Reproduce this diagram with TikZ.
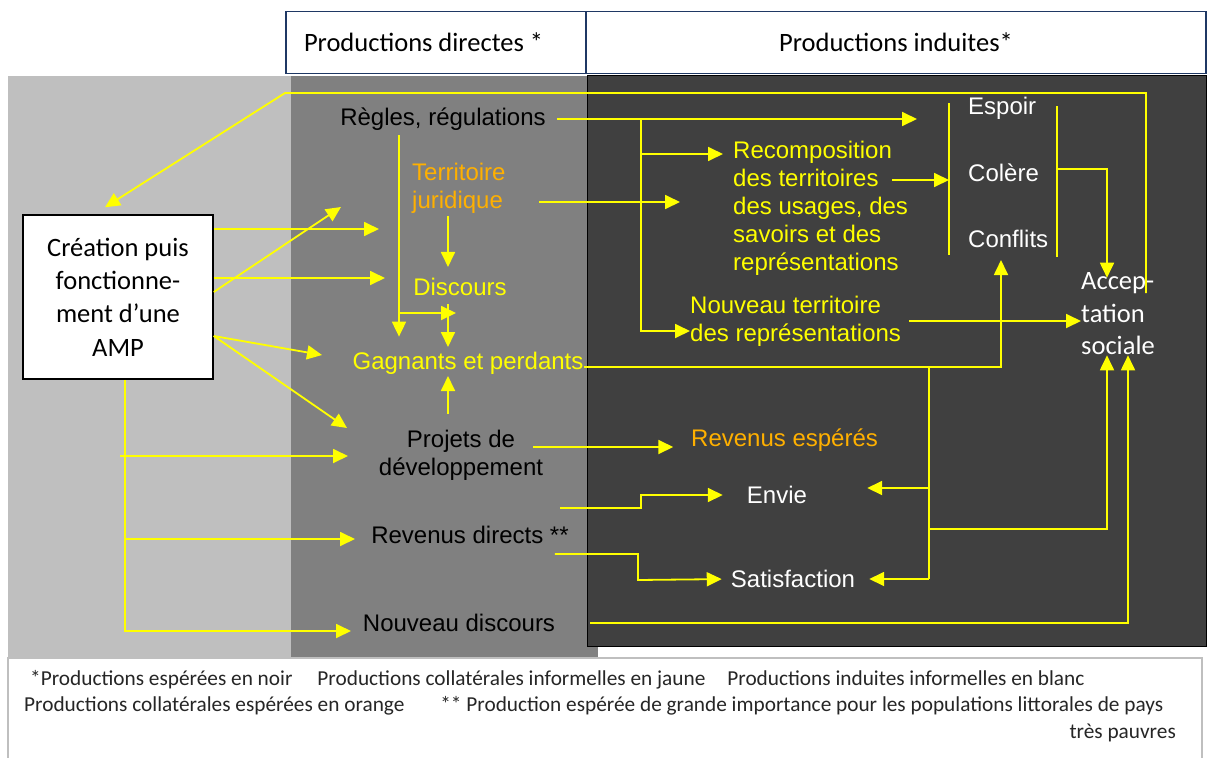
\documentclass[tikz,border=0pt]{standalone}
\usepackage{fontspec}
\setmainfont{Liberation Sans}
\newfontfamily\calibri{Carlito}
\usetikzlibrary{arrows.meta,positioning}

\definecolor{lightgr}{RGB}{191,191,191}
\definecolor{midgr}{RGB}{128,128,128}
\definecolor{darkgr}{RGB}{64,64,64}
\definecolor{headblue}{RGB}{31,56,100}
\definecolor{ylw}{RGB}{255,255,0}
\definecolor{orng}{RGB}{255,176,0}

\begin{document}
\begin{tikzpicture}[x=1pt,y=-1pt,
  font=\fontsize{24}{28}\selectfont,
  lbl/.style={inner sep=0pt,align=center},
  blk/.style={lbl,text=black},
  ylab/.style={lbl,text=ylw},
  olab/.style={lbl,text=orng},
  wlab/.style={lbl,text=white},
  head/.style={draw=headblue,line width=1.5pt,fill=white,minimum height=62pt,font=\calibri\fontsize{26.5}{32}\selectfont},
  ampbox/.style={draw=black,line width=1.5pt,fill=white,minimum width=190pt,minimum height=164pt,align=center,font=\calibri\fontsize{26.5}{33.3}\selectfont},
  legtxt/.style={inner sep=0pt,text=black!85,font=\calibri\fontsize{21.3}{26}\selectfont},
  yline/.style={draw=ylw,line width=1.8pt},
  yarrow/.style={yline,-{Triangle[length=15pt,width=14pt]}},
]
\useasboundingbox (0,0) rectangle (1208,758);

\fill[lightgr] (8,76) rectangle (291,658);
\fill[midgr] (291,76) rectangle (598,658);
\filldraw[fill=darkgr,draw=black,line width=1pt] (587,75) rectangle (1206,646);
\draw[lightgr,line width=1.5pt,fill=white] (8,658) rectangle (1202,775);

\node[head,text width=266pt,align=flush left,inner xsep=18pt] (hdir) at (437,42.5) {Productions directes *};
\node[head,minimum width=620pt] (hind) at (896,42.5) {Productions induites*};

\node[ampbox] (amp) at (118,297) {Création puis\\fonctionne-\\ment d’une\\AMP};

\node[blk] (regles) at (443,119) {Règles, régulations};
\node[olab,align=left,anchor=west] (terr) at (412,188) {Territoire\\juridique};
\node[ylab] (disc) at (460,287) {Discours};
\node[ylab] (gagn) at (468,363) {Gagnants et perdants};
\node[blk] (proj) at (461,455) {Projets de\\développement};
\node[blk] (revd) at (470,535) {Revenus directs **};
\node[blk] (ndisc) at (459,623) {Nouveau discours};

\node[ylab,align=left,anchor=west] (recomp) at (733,208) {Recomposition\\des territoires\\des usages, des\\savoirs et des\\représentations};
\node[wlab,anchor=west] (espoir) at (968,108) {Espoir};
\node[wlab,anchor=west] (colere) at (968,173) {Colère};
\node[wlab,anchor=west] (conflits) at (968,239) {Conflits};
\node[wlab,align=left,anchor=west,font=\calibri\fontsize{26.5}{32.5}\selectfont] (accept) at (1081,314) {Accep-\\tation\\sociale};
\node[ylab,align=left,anchor=west] (nterr) at (690,321) {Nouveau territoire\\des représentations};
\node[olab,anchor=west] (reve) at (691,440) {Revenus espérés};
\node[wlab] (envie) at (777,495) {Envie};
\node[wlab] (satis) at (793,579) {Satisfaction};

\node[legtxt,anchor=west] (leg1) at (30,680) {*Productions espérées en noir\hspace{25pt}Productions collatérales informelles en jaune\hspace{22pt}Productions induites informelles en blanc};
\node[legtxt,anchor=west] (leg2) at (24,706) {Productions collatérales espérées en orange\hspace{36pt}** Production espérée de grande importance pour les populations littorales de pays};
\node[legtxt,anchor=east] (leg3) at (1176,733) {très pauvres};

% junctions and free ends
\coordinate (fb) at (1146,293);
\coordinate (fbc) at (285,93);
\coordinate (br1t) at (949,103);
\coordinate (br1b) at (949,255);
\coordinate (br2t) at (1057,106);
\coordinate (br2b) at (1057,257);
\coordinate (br2m) at (1057,169);
\coordinate (espin) at (917,119);
\coordinate (jr) at (641,119);
\coordinate (jrec) at (641,154);
\coordinate (tj) at (539,202);
\coordinate (rc) at (892,180);
\coordinate (gc) at (1001,367);
\coordinate (ev) at (929,367);
\coordinate (ee) at (929,488);
\coordinate (ea) at (929,529);
\coordinate (es) at (929,579);
\coordinate (rtop) at (399,135);
\coordinate (rmid) at (399,313);
\coordinate (rv) at (448,216);
\coordinate (lt) at (125,631);
\coordinate (lp) at (125,456);
\coordinate (lr) at (125,539);
\coordinate (fa) at (379,229);
\coordinate (fb2) at (341,207);
\coordinate (fc) at (385,278);
\coordinate (fd) at (322,355);
\coordinate (fe) at (347,428);

\draw[yarrow] (fb) |- (fbc) -- ([xshift=-13pt,yshift=7pt]amp.north);

\draw[yline] (br1t) -- (br1b);
\draw[yline] (br2t) -- (br2b);
\draw[yarrow] ([xshift=11pt]regles.east) -- (espin);
\draw[yarrow] (jr) |- ([yshift=-10pt]nterr.west);
\draw[yarrow,shorten >=10pt] (jrec) -- (jrec -| recomp.west);
\draw[yarrow,shorten >=53pt] (tj) -- (tj -| recomp.west);
\draw[yarrow] (rc) -- (rc -| br1t);
\draw[yarrow] (br2m) -| ([xshift=26pt,yshift=-5pt]accept.north west);

\draw[yarrow,shorten >=11pt] (rv) -- (rv |- disc.north);
\draw[yarrow,shorten >=15pt] (rtop) -- (rtop |- gagn.north);
\draw[yarrow,shorten >=4pt] (rmid) -- (rmid -| disc);
\draw[yarrow,shorten <=8pt,shorten >=16pt] (rv |- disc.south) -- (rv |- gagn);
\draw[yarrow,shorten <=16pt,shorten >=13pt] (rv |- proj.north) -- (rv |- gagn);

\draw[yarrow,shorten >=12pt] ([yshift=-4pt]gagn.east) -| (gc |- conflits.south);
\draw[yarrow] ([xshift=8pt]nterr.east) -- ([yshift=-7pt]accept.west);
\draw[yarrow] ([xshift=-10pt,yshift=8pt]proj.east) -- ++(140,0);

\draw[yline] (ev) -- (es);
\draw[yarrow] (ee) -- ([xshift=60pt,yshift=7pt]envie.east);
\draw[yarrow] (es) -- ([xshift=14pt]satis.east);
\draw[yarrow] (ea) -| ([xshift=26pt]accept.south west);
\draw[yarrow,shorten >=24pt] ([xshift=-9pt,yshift=27pt]revd.east) -| ++(81,-13) -- (envie.west);
\draw[yarrow,shorten >=9pt] ([xshift=-14pt,yshift=-19pt]revd.east) -| ++(83,26) -- (satis.west);
\draw[yarrow] ([xshift=35pt]ndisc.east) -| ([xshift=47pt]accept.south west);

\draw[yarrow] ([yshift=68pt]amp.east) -- (fa);
\draw[yarrow] ([yshift=5pt]amp.east) -- (fb2);
\draw[yarrow] ([yshift=19pt]amp.east) -- (fc);
\draw[yarrow] ([yshift=-39pt]amp.east) -- (fd);
\draw[yarrow] ([yshift=-39pt]amp.east) -- (fe);
\draw[yarrow] ([xshift=7pt]amp.south) |- (lt) -- ++(226,0);
\draw[yarrow] ([xshift=-5pt]lp) -- ++(228,0);
\draw[yarrow] (lr) -- ++(230,0);
\end{tikzpicture}
\end{document}
